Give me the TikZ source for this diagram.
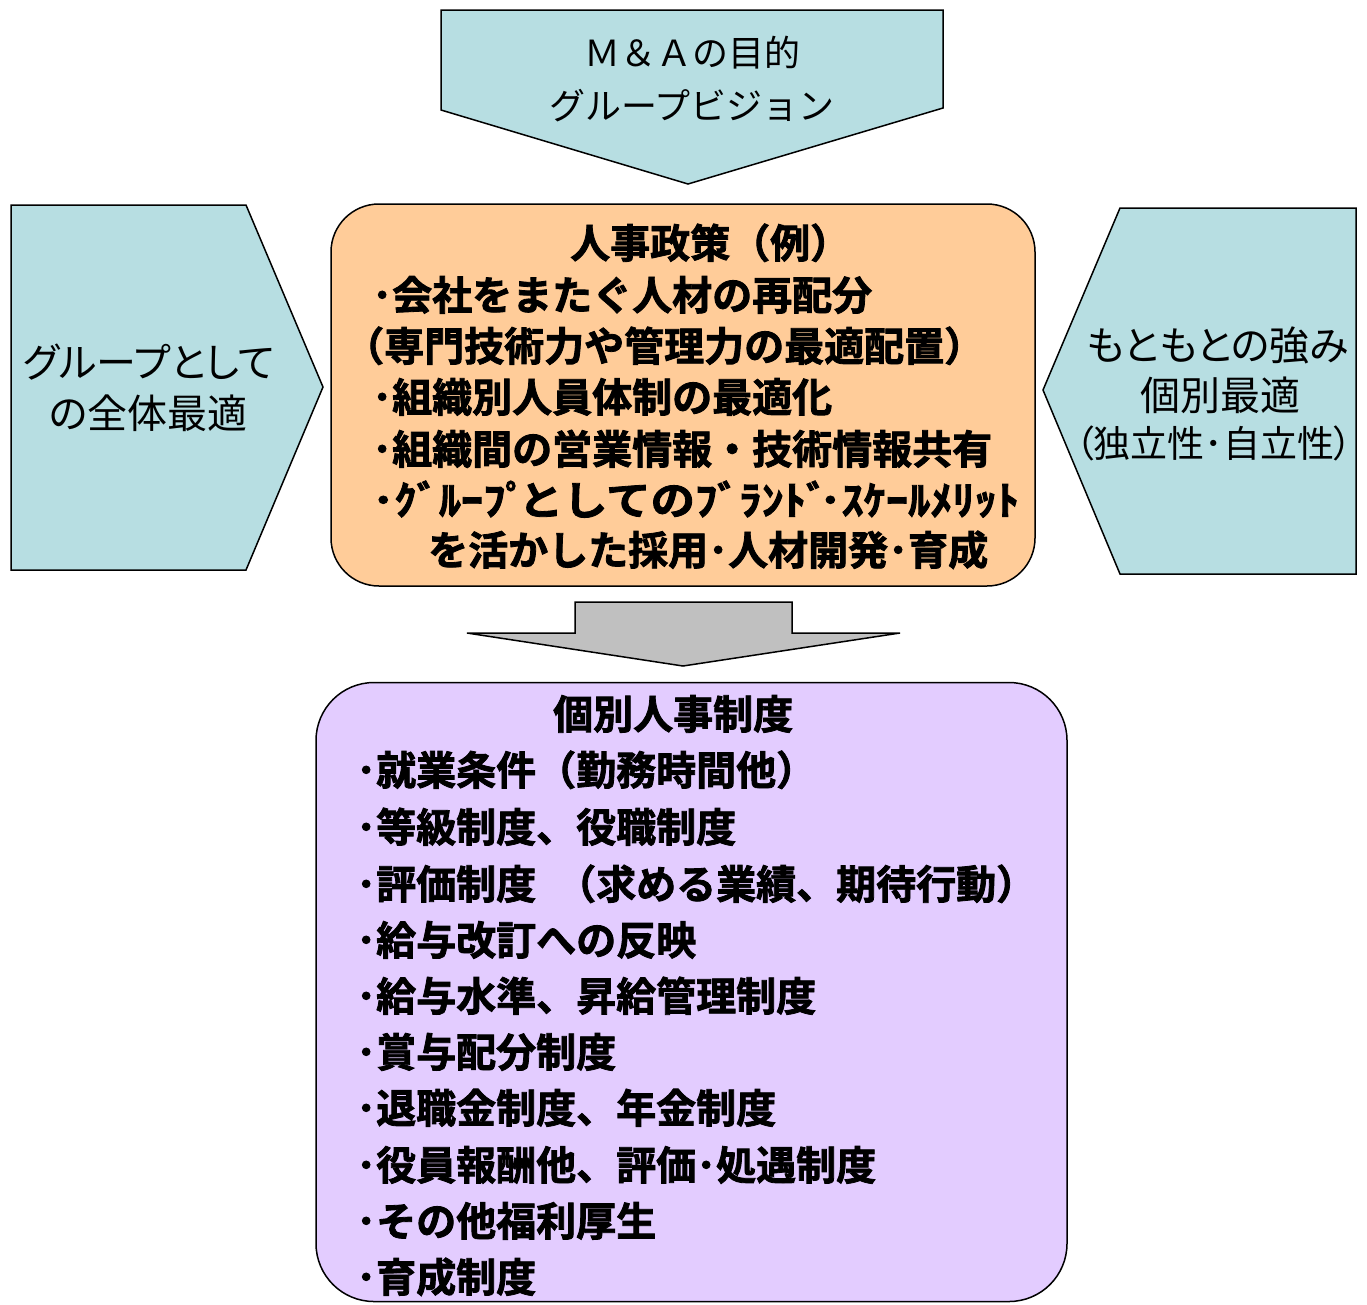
\documentclass[tikz,border=0pt]{standalone}
\usepackage{graphicx}
\usepackage{fontspec}
\newfontfamily\jp{Noto Sans CJK JP}[BoldFont={Noto Sans CJK JP Bold}, BoldFeatures={FakeBold=2}]
\newfontfamily\jpp{Noto Sans CJK JP}[RawFeature=+palt]
\definecolor{tealfill}{HTML}{B7DEE2}
\definecolor{peach}{HTML}{FFCC99}
\definecolor{lav}{HTML}{E3CCFF}
\definecolor{grayfill}{HTML}{C0C0C0}
\tikzset{
  panel/.style={draw=black, line width=1.5pt, fill=tealfill, line join=miter},
  graypanel/.style={draw=black, line width=1.5pt, fill=grayfill},
  roundbox/.style={draw=black, line width=1.5pt, rectangle, inner sep=0pt},
  plain/.style={anchor=base, inner sep=0pt, font=\jp\fontsize{36}{51}\selectfont},
  sideplain/.style={anchor=base, inner sep=0pt, font=\jpp\fontsize{40}{51}\selectfont},
  boldline/.style={anchor=base west, inner sep=0pt, font=\jp\bfseries\fontsize{40}{50}\selectfont}
}
\begin{document}
\begin{tikzpicture}[x=1pt,y=-1pt]
\useasboundingbox (0,0) rectangle (1367,1304);
% top pentagon arrow
\path[panel] (441,10) -- (943,10) -- (943,108) -- (688,184) -- (441,110) -- cycle;
\node[plain] (goalA) at (692,66) {Ｍ＆Ａの目的};
\node[plain] (goalB) at (692,119) {グループビジョン};
% left pentagon
\path[panel] (11,205) -- (246,205) -- (323,387) -- (246,570) -- (11,570) -- cycle;
\node[sideplain] (leftA) at (149,377) {グループとして};
\node[sideplain] (leftB) at (148,428) {の全体最適};
% right pentagon
\path[panel] (1120,208) -- (1356,208) -- (1356,574) -- (1120,574) -- (1043,390) -- cycle;
\node[sideplain] (rightA) at (1218,360) {もともとの強み};
\node[sideplain] (rightB) at (1220,410) {個別最適};
\node[sideplain, font=\jpp\fontsize{37}{51}\selectfont] (rightC) at (1214,457) {（独立性･自立性）};
% orange box
\node[roundbox, fill=peach, rounded corners=48pt, minimum width=704pt, minimum height=382pt] (policy) at (683,395) {};
\node[boldline] (p0) at (570,258) {人事政策（例）};
\node[boldline] (p1) at (372,310) {･会社をまたぐ人材の再配分};
\node[boldline] (p2) at (344,361) {（専門技術力や管理力の最適配置）};
\node[boldline] (p3) at (372,412) {･組織別人員体制の最適化};
\node[boldline] (p4) at (372,464) {･組織間の営業情報・技術情報共有};
\node[boldline] (p5) at (372,515) {\scalebox{1.11}[1]{･ｸﾞﾙｰﾌﾟ\kern-8ptとしてのﾌﾞﾗﾝﾄﾞ\kern-8pt･ｽｹｰﾙﾒﾘｯﾄ}};
\node[boldline] (p6) at (428,565) {を活かした採用･人材開発･育成};
% gray arrow
\path[graypanel] (575,602) -- (792,602) -- (792,633) -- (900,633) -- (683,666) -- (467,633) -- (575,633) -- cycle;
% purple box
\node[roundbox, fill=lav, rounded corners=58pt, minimum width=751pt, minimum height=619pt] (system) at (691.5,992) {};
\node[boldline] (s0) at (553,729) {個別人事制度};
\node[boldline] (s1) at (356,785) {･就業条件（勤務時間他）};
\node[boldline] (s2) at (356,842) {･等級制度、役職制度};
\node[boldline] (s3) at (356,899) {･評価制度\hspace*{20pt}（求める業績、期待行動）};
\node[boldline] (s4) at (356,955) {･給与改訂への反映};
\node[boldline] (s5) at (356,1011) {･給与水準、昇給管理制度};
\node[boldline] (s6) at (356,1067) {･賞与配分制度};
\node[boldline] (s7) at (356,1123) {･退職金制度、年金制度};
\node[boldline] (s8) at (356,1180) {･役員報酬他、評価･処遇制度};
\node[boldline] (s9) at (356,1236) {･その他福利厚生};
\node[boldline] (s10) at (356,1292) {･育成制度};
\end{tikzpicture}
\end{document}
